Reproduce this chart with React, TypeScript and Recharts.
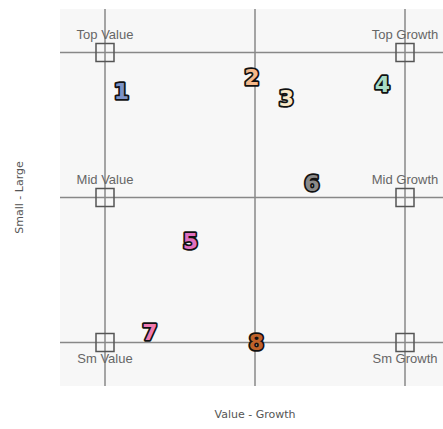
import { ScatterChart, Scatter, XAxis, YAxis, CartesianGrid, ReferenceLine } from 'recharts';

// style box corners / sides
const boxNames = ['Top Value', 'Top Growth', 'Mid Value', 'Mid Growth', 'Sm Value', 'Sm Growth'];
const boxX = [-1, 1, -1, 1, -1, 1];
const boxY = [1, 1, 0, 0, -1, -1];

// funds, numbered
const fundIds = ['1', '2', '3', '4', '5', '6', '7', '8'];
const fundX = [-0.89, -0.02, 0.21, 0.85, -0.43, 0.38, -0.7, 0.01];
const fundY = [0.73, 0.83, 0.68, 0.78, -0.3, 0.1, -0.93, -1.0];
const fundColors = ['#7b93c8', '#f5b88a', '#f8e8c8', '#a9dcc6', '#e070c0', '#8a8a8a', '#f07ab0', '#c0622a'];

const gridTicks = [-1, 0, 1];
const domain: [number, number] = [-1.3, 1.3];

const boxData = boxNames.map((name, i) => ({ x: boxX[i], y: boxY[i], name }));
const fundData = fundIds.map((id, i) => ({ x: fundX[i], y: fundY[i], id, color: fundColors[i] }));

const FONT = '"DejaVu Sans", sans-serif';
const LABEL_FONT = '"Liberation Sans", Arial, sans-serif';

const BoxShape = (props: any) => {
  const { cx, cy, payload } = props;
  const below = payload.y < 0;
  return (
    <g>
      <rect x={cx - 9} y={cy - 9} width={18} height={18} fill="none" stroke="#555" strokeWidth={1.5} />
      <text
        x={cx}
        y={below ? cy + 20 : cy - 14}
        textAnchor="middle"
        fontFamily={LABEL_FONT}
        fontSize={13}
        fill="#666"
      >
        {payload.name}
      </text>
    </g>
  );
};

const FundShape = (props: any) => {
  const { cx, cy, payload } = props;
  return (
    <text
      x={cx}
      y={cy}
      textAnchor="middle"
      dominantBaseline="central"
      fontFamily={FONT}
      fontWeight="bold"
      fontSize={22}
      fill={payload.color}
      stroke="#111"
      strokeWidth={3.5}
      strokeLinejoin="round"
      paintOrder="stroke"
    >
      {payload.id}
    </text>
  );
};

export default function App() {
  return (
    <div style={{ position: 'fixed', left: 0, top: 0, width: 443, height: 429, overflow: 'hidden', background: '#fff' }}>
      <ScatterChart width={460} height={429} margin={{ top: 9, right: 10, bottom: 0, left: 0 }}>
        <CartesianGrid fill="#f7f7f7" stroke="none" horizontal={false} vertical={false} />
        <XAxis
          type="number"
          dataKey="x"
          domain={domain}
          ticks={gridTicks}
          tick={false}
          tickLine={false}
          axisLine={false}
          height={43}
          label={{ value: 'Value - Growth', position: 'insideBottom', offset: 11, fill: '#555', fontSize: 11, fontFamily: FONT }}
        />
        <YAxis
          type="number"
          dataKey="y"
          domain={domain}
          ticks={gridTicks}
          tick={false}
          tickLine={false}
          axisLine={false}
          width={60}
          label={{
            content: ({ viewBox }: any) => {
              const x = viewBox.x + 19;
              const y = viewBox.y + viewBox.height / 2;
              return (
                <text
                  x={x}
                  y={y}
                  transform={`rotate(-90, ${x}, ${y})`}
                  textAnchor="middle"
                  dominantBaseline="central"
                  fontFamily={FONT}
                  fontSize={11}
                  fill="#555"
                >
                  Small - Large
                </text>
              );
            },
          }}
        />
        {gridTicks.map((t) => (
          <ReferenceLine key={`vx${t}`} x={t} stroke="#888" strokeWidth={1.5} />
        ))}
        {gridTicks.map((t) => (
          <ReferenceLine key={`hy${t}`} y={t} stroke="#888" strokeWidth={1.5} />
        ))}
        <Scatter data={boxData} shape={BoxShape} isAnimationActive={false} />
        <Scatter data={fundData} shape={FundShape} isAnimationActive={false} />
      </ScatterChart>
    </div>
  );
}
